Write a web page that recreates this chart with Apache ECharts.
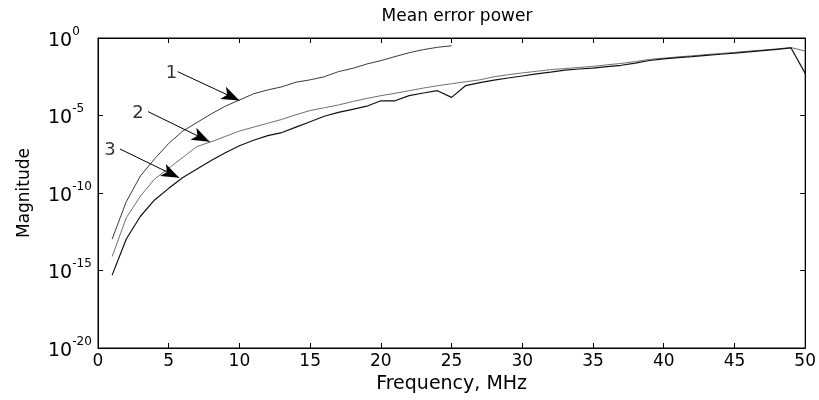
<!DOCTYPE html>
<html>
<head>
<meta charset="utf-8">
<script src="https://cdn.jsdelivr.net/npm/echarts@6/dist/echarts.min.js"></script>
<style>html,body{margin:0;padding:0;background:#fff}#c{width:819px;height:400px}</style>
</head>
<body>
<div id="c"></div>
<script>
// Frequency (MHz) sample points
const freq1 = [1,2,3,4,5,6,7,8,9,10,11,12,13,14,15,16,17,18,19,20,21,22,23,24,25];
const freq = [1,2,3,4,5,6,7,8,9,10,11,12,13,14,15,16,17,18,19,20,21,22,23,24,25,26,27,28,29,30,31,32,33,34,35,36,37,38,39,40,41,42,43,44,45,46,47,48,49,50];
// log10 of magnitude
const curve1Log = [-12.97,-10.56,-8.9,-7.8,-6.8,-6.0,-5.45,-4.9,-4.4,-4.0,-3.6,-3.35,-3.15,-2.85,-2.7,-2.5,-2.17,-1.96,-1.68,-1.46,-1.2,-0.95,-0.75,-0.6,-0.5];
const curve2Log = [-14.1,-11.6,-10.2,-9.1,-8.4,-7.7,-7.0,-6.7,-6.35,-6.0,-5.75,-5.5,-5.25,-4.95,-4.68,-4.5,-4.32,-4.1,-3.9,-3.72,-3.57,-3.4,-3.23,-3.08,-2.95,-2.82,-2.7,-2.5,-2.37,-2.25,-2.15,-2.04,-1.97,-1.9,-1.83,-1.73,-1.64,-1.52,-1.38,-1.3,-1.22,-1.15,-1.07,-1.0,-0.93,-0.85,-0.78,-0.7,-0.62,-0.84];
const curve3Log = [-15.3,-12.97,-11.5,-10.45,-9.7,-9.0,-8.45,-7.9,-7.4,-6.95,-6.6,-6.3,-6.1,-5.75,-5.4,-5.05,-4.8,-4.6,-4.4,-4.05,-4.05,-3.72,-3.55,-3.4,-3.83,-3.07,-2.88,-2.72,-2.58,-2.45,-2.32,-2.2,-2.07,-2.0,-1.94,-1.85,-1.76,-1.62,-1.45,-1.35,-1.27,-1.2,-1.12,-1.05,-0.98,-0.9,-0.82,-0.74,-0.64,-2.28];
// axis ticks
const xTicks = [0,5,10,15,20,25,30,35,40,45,50];
const yTickExponents = [-20,-15,-10,-5,0];
// annotation labels and arrows (data coordinates: frequency, log10 magnitude)
const annoText = ['1','2','3'];
const annoTextPos = [[5.2,-2.26],[2.82,-4.84],[0.85,-7.23]];
const annoArrowStart = [[5.63,-2.17],[3.54,-4.75],[1.55,-7.16]];
const annoArrowEnd = [[10.0,-4.03],[7.89,-6.69],[5.74,-9.02]];

const FONT = 'DejaVu Sans, sans-serif';
const chart = echarts.init(document.getElementById('c'), null, {renderer:'canvas'});

function pairs(xs, ys){ return xs.map((x,i)=>[x, ys[i]]); }

const commonX = {type:'value', min:xTicks[0], max:xTicks[xTicks.length-1], interval:xTicks[1]-xTicks[0]};
const commonY = {type:'value', min:yTickExponents[0], max:yTickExponents[yTickExponents.length-1], interval:yTickExponents[1]-yTickExponents[0]};

chart.setOption({
  animation:false,
  backgroundColor:'#fff',
  title:{
    text:'Mean error power', left:452, top:3, textAlign:'center',
    textStyle:{fontFamily:FONT, fontSize:17, fontWeight:'normal', color:'#000'}
  },
  grid:{left:98, right:11, top:38, bottom:52, show:true, borderColor:'#000', borderWidth:1, backgroundColor:'#fff'},
  xAxis:[
    Object.assign({}, commonX, {
      position:'bottom', name:'Frequency, MHz', nameLocation:'middle', nameGap:22,
      nameTextStyle:{fontFamily:FONT, fontSize:19, color:'#000'},
      axisLine:{show:true, onZero:false, lineStyle:{color:'#000', width:1}},
      axisTick:{show:true, inside:true, length:5, lineStyle:{color:'#000'}},
      axisLabel:{fontFamily:FONT, fontSize:17, color:'#000', margin:5},
      splitLine:{show:false}
    }),
    Object.assign({}, commonX, {
      position:'top',
      axisLine:{show:true, onZero:false, lineStyle:{color:'#000', width:1}},
      axisTick:{show:true, inside:true, length:5, lineStyle:{color:'#000'}},
      axisLabel:{show:false}, splitLine:{show:false}
    })
  ],
  yAxis:[
    Object.assign({}, commonY, {
      position:'left', name:'Magnitude', nameLocation:'middle', nameGap:65, nameRotate:90,
      nameTextStyle:{fontFamily:FONT, fontSize:17, color:'#000'},
      axisLine:{show:true, onZero:false, lineStyle:{color:'#000', width:1}},
      axisTick:{show:true, inside:true, length:5, lineStyle:{color:'#000'}},
      axisLabel:{
        fontFamily:FONT, color:'#000', margin:50, align:'left',
        formatter:function(v){ return '{b|10}{s|' + v + '}'; },
        rich:{
          b:{fontFamily:FONT, fontSize:19, color:'#000', verticalAlign:'bottom', padding:[6,0,0,0]},
          s:{fontFamily:FONT, fontSize:12, color:'#000', verticalAlign:'top', padding:[0,0,9,0]}
        }
      },
      splitLine:{show:false}
    }),
    Object.assign({}, commonY, {
      position:'right',
      axisLine:{show:true, onZero:false, lineStyle:{color:'#000', width:1}},
      axisTick:{show:true, inside:true, length:5, lineStyle:{color:'#000'}},
      axisLabel:{show:false}, splitLine:{show:false}
    })
  ],
  series:[
    {type:'line', name:'1', data:pairs(freq1, curve1Log), showSymbol:false, symbol:'none',
     lineStyle:{color:'#3a3a3a', width:1}},
    {type:'line', name:'2', data:pairs(freq, curve2Log), showSymbol:false, symbol:'none',
     lineStyle:{color:'#707070', width:1}},
    {type:'line', name:'3', data:pairs(freq, curve3Log), showSymbol:false, symbol:'none',
     lineStyle:{color:'#111', width:1.2},
     markLine:{
       silent:true, symbol:['none','arrow'], symbolSize:[10,18],
       label:{show:false},
       lineStyle:{color:'#000', width:1, type:'solid'},
       emphasis:{disabled:true},
       data: annoArrowStart.map((s,i)=>[{coord:s},{coord:annoArrowEnd[i]}])
     }},
    {type:'scatter', data: annoTextPos.map((p,i)=>[p[0],p[1],annoText[i]]),
     symbolSize:1, itemStyle:{color:'rgba(0,0,0,0)'}, silent:true,
     label:{show:true, position:'inside', formatter:(p)=>p.value[2],
            fontFamily:FONT, fontSize:18, color:'#000'}}
  ]
});
</script>
</body>
</html>
